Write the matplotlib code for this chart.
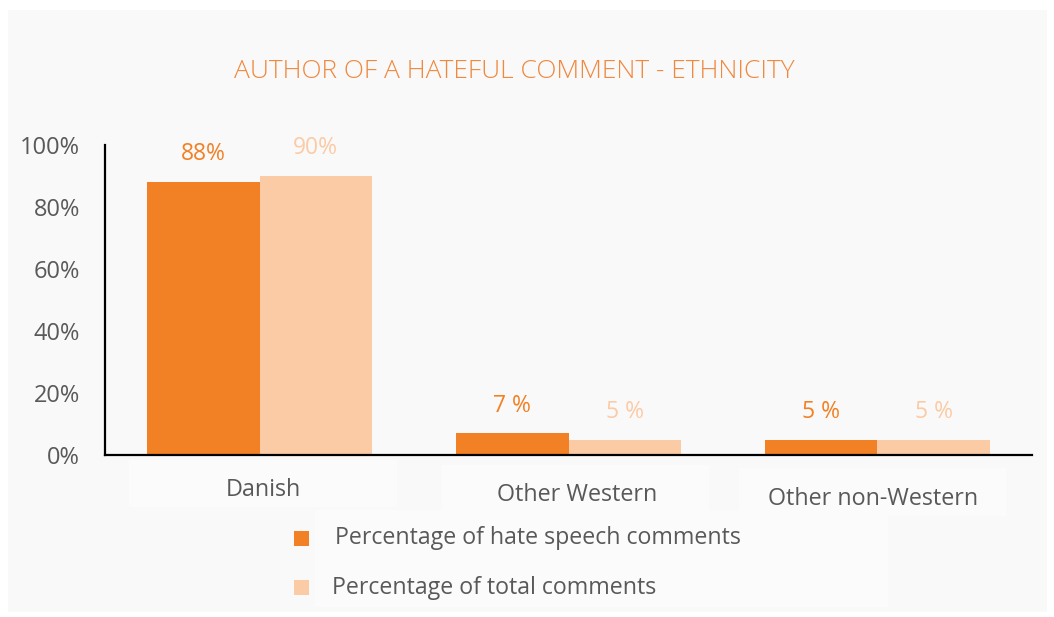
import matplotlib
matplotlib.use("Agg")
import matplotlib.pyplot as plt
from matplotlib.patches import Rectangle

plt.rcParams["font.family"] = ["Open Sans", "DejaVu Sans"]

categories = ["Danish", "Other Western", "Other non-Western"]
hate_share = [88, 7, 5]
total_share = [90, 5, 5]
series_names = ["Percentage of hate speech comments", "Percentage of total comments"]
y_ticks = [0, 20, 40, 60, 80, 100]
title = "AUTHOR OF A HATEFUL COMMENT - ETHNICITY"

ORANGE = "#F28024"
PEACH = "#FBCBA6"
TITLE_COLOR = "#F0883E"
TEXT = "#595959"
PANEL = "#F9F9F9"
BOX = "#FBFBFB"

W, H = 1054, 617
fig = plt.figure(figsize=(W / 100, H / 100), dpi=100)
fig.patch.set_facecolor("white")


def px_rect(x0, y0, x1, y1, color, z=-2):
    # rectangle given in pixel coords measured from the top-left corner
    fig.patches.append(Rectangle((x0 / W, 1 - y1 / H), (x1 - x0) / W, (y1 - y0) / H,
                                 transform=fig.transFigure, facecolor=color,
                                 edgecolor="none", zorder=z))


# light panel behind everything, plus faint boxes behind labels and legend
px_rect(8, 10, 1047, 612, PANEL, z=-3)
px_rect(129, 460, 397, 507, BOX)
px_rect(442, 465, 709, 512, BOX)
px_rect(739, 468, 1006, 516, BOX)
px_rect(315, 510, 888, 607, BOX)

ax = fig.add_axes([105 / W, 1 - 455 / H, (1032 - 105) / W, (455 - 145) / H])
ax.set_facecolor("none")

x = list(range(len(categories)))
bw = 0.363
hate_bars = ax.bar([i - bw / 2 for i in x], hate_share, bw, color=ORANGE, zorder=2)
total_bars = ax.bar([i + bw / 2 for i in x], total_share, bw, color=PEACH, zorder=2)

ax.set_xlim(-0.5, 2.5)
ax.set_ylim(0, 100)
ax.set_yticks(y_ticks)
ax.set_yticklabels([f"{t}%" for t in y_ticks], fontsize=17, color=TEXT)
ax.tick_params(axis="y", length=0, pad=18)
ax.set_xticks([])

for side in ("top", "right"):
    ax.spines[side].set_visible(False)
for side in ("left", "bottom"):
    ax.spines[side].set_linewidth(1.6)
    ax.spines[side].set_color("black")


def pct(v):
    return f"{v}%" if v >= 10 else f"{v} %"


for bars, vals, col in ((hate_bars, hate_share, ORANGE), (total_bars, total_share, PEACH)):
    for b, v in zip(bars, vals):
        ax.annotate(pct(v), (b.get_x() + b.get_width() / 2, v),
                    xytext=(0, 20), textcoords="offset points",
                    ha="center", va="center", fontsize=16.5, color=col)

# category names sit on staggered, slightly shifted positions
label_shift = [(3, -25), (6, -28.5), (-3, -32)]
for i, (name, off) in enumerate(zip(categories, label_shift)):
    ax.annotate(name, (i, 0), xytext=off, textcoords="offset points",
                ha="center", va="center", fontsize=16.8, color=TEXT,
                annotation_clip=False)

fig.text(514 / W, 1 - 72 / H, title, ha="center", va="center",
         fontsize=19, color=TITLE_COLOR, fontweight="light")

# legend drawn by hand: swatch + text
legend_rows = [(538.5, 335, ORANGE), (587.5, 332, PEACH)]
for name, (yc, tx, col) in zip(series_names, legend_rows):
    px_rect(294, yc - 7.5, 309, yc + 7.5, col, z=2)
    fig.text(tx / W, 1 - yc / H, name, ha="left", va="center",
             fontsize=16.7, color=TEXT)

fig.savefig("out.png", dpi=100, facecolor=fig.get_facecolor())
